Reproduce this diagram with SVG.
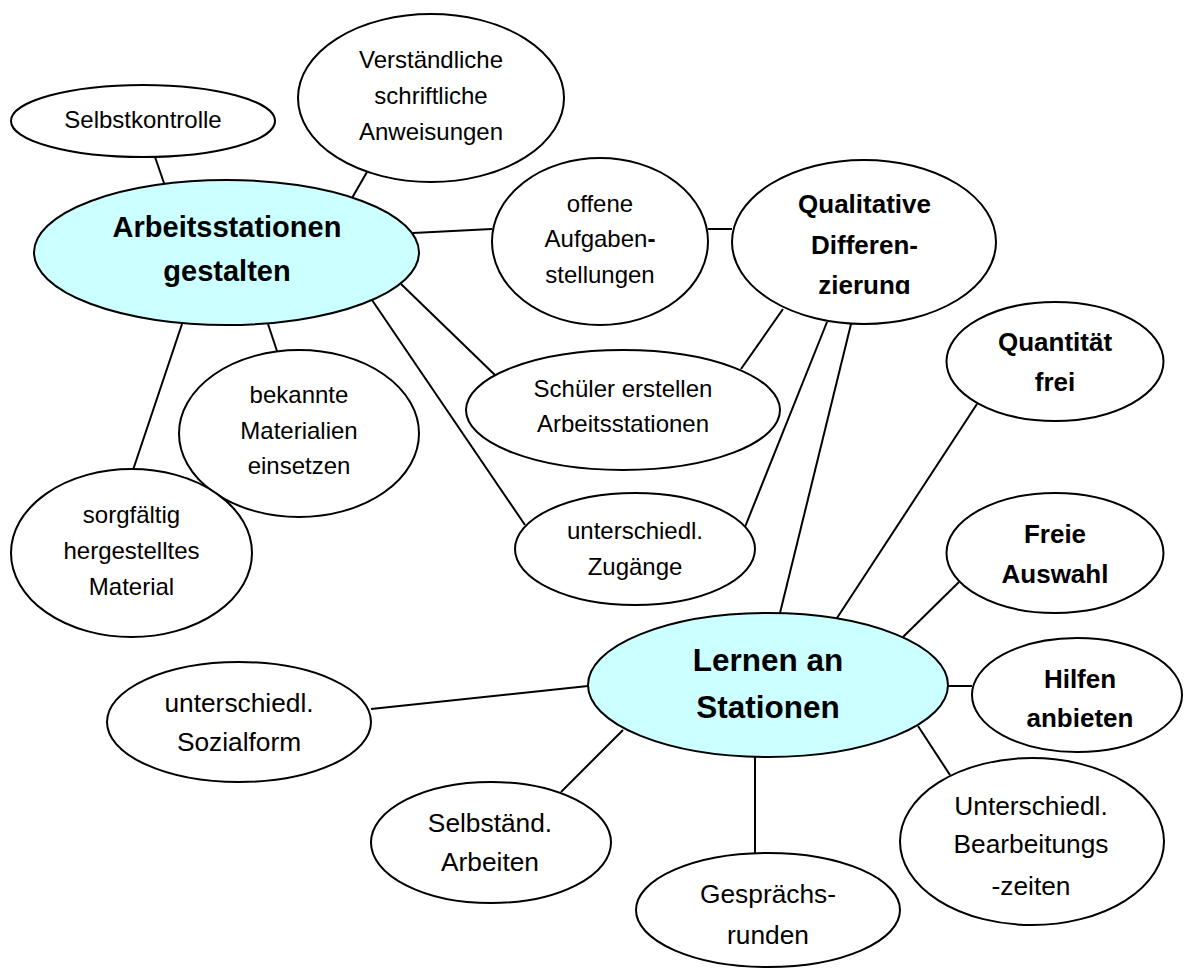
<svg xmlns="http://www.w3.org/2000/svg" width="1187" height="968" viewBox="0 0 1187 968">
<style>
.n{fill:#fff;stroke:#000;stroke-width:2}
.c{fill:#ccffff;stroke:#000;stroke-width:2}
text{font-family:"Liberation Sans",Arial,sans-serif;text-anchor:middle;fill:#000}
.t{font-size:24px}
.u{font-size:26.3px}
.b{font-size:26px;font-weight:bold}
.h1{font-size:29px;font-weight:bold}
.h2{font-size:31.5px;font-weight:bold}
#links line{stroke:#000;stroke-width:2}
</style>
<defs>
<clipPath id="qclip"><rect x="700" y="150" width="320" height="144"/></clipPath>
</defs>
<rect width="1187" height="968" fill="#fff"/>
<g id="links">
<line x1="155" y1="157" x2="165" y2="186"/>
<line x1="367" y1="172" x2="352" y2="198"/>
<line x1="413" y1="233" x2="492" y2="229"/>
<line x1="708" y1="229" x2="732" y2="229"/>
<line x1="401" y1="284" x2="496" y2="376"/>
<line x1="372" y1="300" x2="525" y2="525"/>
<line x1="268" y1="324" x2="277" y2="351"/>
<line x1="182" y1="324" x2="133" y2="470"/>
<line x1="783" y1="309" x2="741" y2="369"/>
<line x1="827" y1="322" x2="745" y2="527"/>
<line x1="851" y1="324" x2="780" y2="613"/>
<line x1="977" y1="404" x2="837" y2="618"/>
<line x1="959" y1="582" x2="903" y2="637"/>
<line x1="948" y1="686" x2="972" y2="686"/>
<line x1="918" y1="726" x2="950" y2="775"/>
<line x1="755" y1="757" x2="755" y2="853"/>
<line x1="623" y1="730" x2="561" y2="792"/>
<line x1="371" y1="709" x2="588" y2="686"/>
</g>
<g id="selbstkontrolle"><ellipse class="n" cx="143" cy="121" rx="132" ry="36"/><text class="t" x="143" y="128">Selbstkontrolle</text></g>
<g id="verstaendliche"><ellipse class="n" cx="431" cy="98" rx="133" ry="84"/><text class="t" x="431" y="68">Verständliche</text><text class="t" x="431" y="104">schriftliche</text><text class="t" x="431" y="140">Anweisungen</text></g>
<g id="arbeitsstationen"><ellipse class="c" cx="226.5" cy="252.5" rx="192.5" ry="72.5"/><text class="h1" x="227" y="237">Arbeitsstationen</text><text class="h1" x="227" y="281">gestalten</text></g>
<g id="offene"><ellipse class="n" cx="600" cy="241.5" rx="108" ry="83.5"/><text class="t" x="600" y="212">offene</text><text class="t" x="600" y="247">Aufgaben<tspan font-weight="bold">-</tspan></text><text class="t" x="600" y="283">stellungen</text></g>
<g id="qualitative"><ellipse class="n" cx="864" cy="242" rx="132" ry="82"/><g clip-path="url(#qclip)"><text class="b" x="864.5" y="213">Qualitative</text><text class="b" x="864.5" y="254">Differen-</text><text class="b" x="864.5" y="294">zierung</text></g></g>
<g id="schueler"><ellipse class="n" cx="623" cy="410" rx="157" ry="60"/><text class="t" x="623" y="397">Schüler erstellen</text><text class="t" x="623" y="432">Arbeitsstationen</text></g>
<g id="bekannte"><ellipse class="n" cx="299" cy="433.5" rx="120" ry="83.5"/><text class="t" x="299" y="403">bekannte</text><text class="t" x="299" y="439">Materialien</text><text class="t" x="299" y="474">einsetzen</text></g>
<g id="sorgfaeltig"><ellipse class="n" cx="131.5" cy="553" rx="120.5" ry="84"/><text class="t" x="131.5" y="523">sorgfältig</text><text class="t" x="131.5" y="559">hergestelltes</text><text class="t" x="131.5" y="595">Material</text></g>
<g id="zugaenge"><ellipse class="n" cx="635" cy="549" rx="120" ry="56"/><text class="t" x="635" y="539">unterschiedl.</text><text class="t" x="635" y="575">Zugänge</text></g>
<g id="quantitaet"><ellipse class="n" cx="1055" cy="361.5" rx="108.5" ry="59.5"/><text class="b" x="1055" y="351">Quantität</text><text class="b" x="1055" y="391">frei</text></g>
<g id="freie"><ellipse class="n" cx="1055" cy="553" rx="108.5" ry="60"/><text class="b" x="1055" y="543">Freie</text><text class="b" x="1055" y="583">Auswahl</text></g>
<g id="lernen"><ellipse class="c" cx="768" cy="685" rx="180" ry="72"/><text class="h2" x="768" y="671">Lernen an</text><text class="h2" x="768" y="718">Stationen</text></g>
<g id="hilfen"><ellipse class="n" cx="1077" cy="695" rx="105" ry="57"/><text class="b" x="1080" y="688">Hilfen</text><text class="b" x="1080" y="727">anbieten</text></g>
<g id="sozialform"><ellipse class="n" cx="239" cy="722" rx="132" ry="60"/><text class="u" x="239" y="712">unterschiedl.</text><text class="u" x="239" y="751">Sozialform</text></g>
<g id="selbstaendig"><ellipse class="n" cx="491" cy="842.5" rx="120" ry="60.5"/><text class="u" x="490" y="832">Selbständ.</text><text class="u" x="490" y="871">Arbeiten</text></g>
<g id="gespraechsrunden"><ellipse class="n" cx="768" cy="910" rx="132" ry="57"/><text class="u" x="768" y="903">Gesprächs-</text><text class="u" x="768" y="944">runden</text></g>
<g id="bearbeitung"><ellipse class="n" cx="1032" cy="841.5" rx="132" ry="83.5"/><text class="u" x="1031" y="815">Unterschiedl.</text><text class="u" x="1031" y="853">Bearbeitungs</text><text class="u" x="1031" y="895">-zeiten</text></g>
</svg>
